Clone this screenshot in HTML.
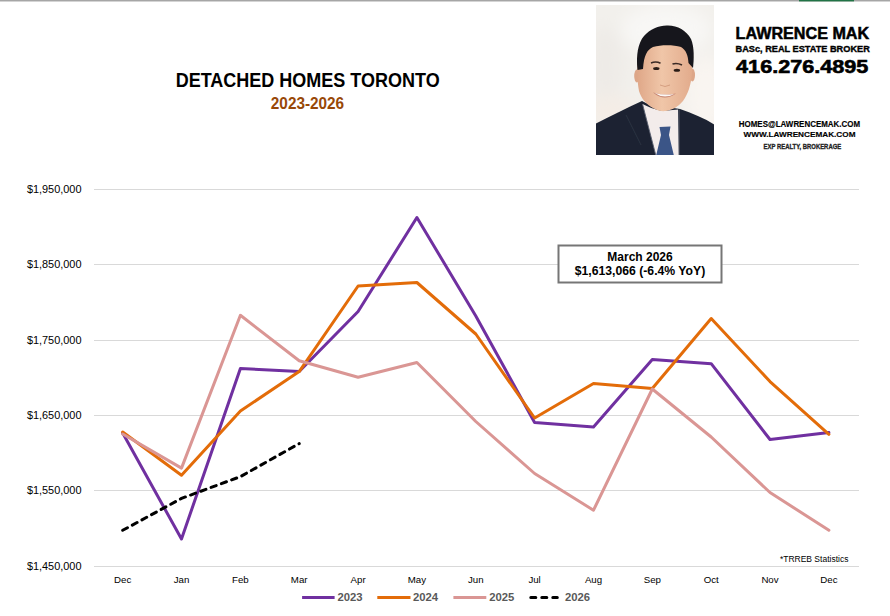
<!DOCTYPE html>
<html><head><meta charset="utf-8"><style>
html,body{margin:0;padding:0;background:#fff;}
body{width:890px;height:616px;position:relative;overflow:hidden;font-family:"Liberation Sans", sans-serif;}
</style></head><body>
<svg width="890" height="616" viewBox="0 0 890 616" style="position:absolute;left:0;top:0">
<rect x="0" y="0" width="890" height="1" fill="#a6a6a6"/>
<rect x="0" y="1" width="890" height="1" fill="#d4d4d4"/>
<rect x="799" y="0" width="55" height="1" fill="#217346"/><rect x="799" y="1" width="55" height="1" fill="#8fb09c"/>
<rect x="94" y="189" width="765" height="1" fill="#d9d9d9"/>
<rect x="94" y="264" width="765" height="1" fill="#d9d9d9"/>
<rect x="94" y="340" width="765" height="1" fill="#d9d9d9"/>
<rect x="94" y="415" width="765" height="1" fill="#d9d9d9"/>
<rect x="94" y="490" width="765" height="1" fill="#d9d9d9"/>
<rect x="94" y="566" width="765" height="1" fill="#d9d9d9"/>
<text x="26.9" y="193.3" font-family='"Liberation Sans", sans-serif' font-size="10.6" fill="#000" textLength="54.6" lengthAdjust="spacingAndGlyphs">$1,950,000</text>
<text x="26.9" y="268.3" font-family='"Liberation Sans", sans-serif' font-size="10.6" fill="#000" textLength="54.6" lengthAdjust="spacingAndGlyphs">$1,850,000</text>
<text x="26.9" y="344.3" font-family='"Liberation Sans", sans-serif' font-size="10.6" fill="#000" textLength="54.6" lengthAdjust="spacingAndGlyphs">$1,750,000</text>
<text x="26.9" y="419.3" font-family='"Liberation Sans", sans-serif' font-size="10.6" fill="#000" textLength="54.6" lengthAdjust="spacingAndGlyphs">$1,650,000</text>
<text x="26.9" y="494.3" font-family='"Liberation Sans", sans-serif' font-size="10.6" fill="#000" textLength="54.6" lengthAdjust="spacingAndGlyphs">$1,550,000</text>
<text x="26.9" y="570.3" font-family='"Liberation Sans", sans-serif' font-size="10.6" fill="#000" textLength="54.6" lengthAdjust="spacingAndGlyphs">$1,450,000</text>
<text x="122.7" y="583" text-anchor="middle" font-family='"Liberation Sans", sans-serif' font-size="9.7" fill="#000">Dec</text>
<text x="181.5" y="583" text-anchor="middle" font-family='"Liberation Sans", sans-serif' font-size="9.7" fill="#000">Jan</text>
<text x="240.4" y="583" text-anchor="middle" font-family='"Liberation Sans", sans-serif' font-size="9.7" fill="#000">Feb</text>
<text x="299.2" y="583" text-anchor="middle" font-family='"Liberation Sans", sans-serif' font-size="9.7" fill="#000">Mar</text>
<text x="358.1" y="583" text-anchor="middle" font-family='"Liberation Sans", sans-serif' font-size="9.7" fill="#000">Apr</text>
<text x="416.9" y="583" text-anchor="middle" font-family='"Liberation Sans", sans-serif' font-size="9.7" fill="#000">May</text>
<text x="475.8" y="583" text-anchor="middle" font-family='"Liberation Sans", sans-serif' font-size="9.7" fill="#000">Jun</text>
<text x="534.6" y="583" text-anchor="middle" font-family='"Liberation Sans", sans-serif' font-size="9.7" fill="#000">Jul</text>
<text x="593.5" y="583" text-anchor="middle" font-family='"Liberation Sans", sans-serif' font-size="9.7" fill="#000">Aug</text>
<text x="652.3" y="583" text-anchor="middle" font-family='"Liberation Sans", sans-serif' font-size="9.7" fill="#000">Sep</text>
<text x="711.2" y="583" text-anchor="middle" font-family='"Liberation Sans", sans-serif' font-size="9.7" fill="#000">Oct</text>
<text x="770.0" y="583" text-anchor="middle" font-family='"Liberation Sans", sans-serif' font-size="9.7" fill="#000">Nov</text>
<text x="828.9" y="583" text-anchor="middle" font-family='"Liberation Sans", sans-serif' font-size="9.7" fill="#000">Dec</text>
<path d="M122.7 433.0 L181.5 539.0 L240.4 368.5 L299.2 371.5 L358.1 311.5 L416.9 217.5 L475.8 316.0 L534.6 422.5 L593.5 427.0 L652.3 359.5 L711.2 363.7 L770.0 439.5 L828.9 432.6" stroke="#7030a0" fill="none" stroke-width="3" stroke-linejoin="round" stroke-linecap="round"/>
<path d="M122.7 432.0 L181.5 475.2 L240.4 411.0 L299.2 371.6 L358.1 286.0 L416.9 282.5 L475.8 334.0 L534.6 418.0 L593.5 383.5 L652.3 388.5 L711.2 318.5 L770.0 381.6 L828.9 434.3" stroke="#e36c09" fill="none" stroke-width="3" stroke-linejoin="round" stroke-linecap="round"/>
<path d="M122.7 434.0 L181.5 468.1 L240.4 315.3 L299.2 360.8 L358.1 377.3 L416.9 362.5 L475.8 421.5 L534.6 473.5 L593.5 510.2 L652.3 389.0 L711.2 437.0 L770.0 492.5 L828.9 530.3" stroke="#da9694" fill="none" stroke-width="3" stroke-linejoin="round" stroke-linecap="round"/>
<path d="M122.7 530.3 L181.5 498.4 L240.4 476.6 L299.2 443.6" stroke="#000" fill="none" stroke-width="3" stroke-linejoin="round" stroke-linecap="round" stroke-dasharray="5.4 5.54" stroke-dashoffset="0"/>
<text x="848.4" y="562" text-anchor="end" font-family='"Liberation Sans", sans-serif' font-size="8.5" fill="#000">*TRREB Statistics</text>
<rect x="302.1" y="596" width="32.5" height="3" fill="#7030a0"/>
<text x="337.5" y="601" font-family='"Liberation Sans", sans-serif' font-size="11.3" font-weight="bold" fill="#595959">2023</text>
<rect x="377.3" y="596" width="33.2" height="3" fill="#e36c09"/>
<text x="413.0" y="601" font-family='"Liberation Sans", sans-serif' font-size="11.3" font-weight="bold" fill="#595959">2024</text>
<rect x="453.4" y="596" width="32.9" height="3" fill="#da9694"/>
<text x="489.2" y="601" font-family='"Liberation Sans", sans-serif' font-size="11.3" font-weight="bold" fill="#595959">2025</text>
<path d="M530.8 597.5 L557.3 597.5" stroke="#000" stroke-width="3" stroke-linecap="round" stroke-dasharray="5 6" fill="none"/>
<text x="565.0" y="601" font-family='"Liberation Sans", sans-serif' font-size="11.3" font-weight="bold" fill="#595959">2026</text>
<rect x="558.5" y="245.5" width="163" height="37" fill="#fff" stroke="#767676" stroke-width="2"/>
<text x="640" y="260.8" text-anchor="middle" font-family='"Liberation Sans", sans-serif' font-size="12" font-weight="bold" fill="#000">March 2026</text>
<text x="640" y="275" text-anchor="middle" font-family='"Liberation Sans", sans-serif' font-size="12" font-weight="bold" fill="#000" textLength="130.5" lengthAdjust="spacingAndGlyphs">$1,613,066 (-6.4% YoY)</text>
<text x="307.7" y="86.7" text-anchor="middle" font-family='"Liberation Sans", sans-serif' font-size="20.5" font-weight="bold" fill="#000" textLength="264" lengthAdjust="spacingAndGlyphs">DETACHED HOMES TORONTO</text>
<text x="307.5" y="108.9" text-anchor="middle" font-family='"Liberation Sans", sans-serif' font-size="17" font-weight="bold" fill="#984807" textLength="73.3" lengthAdjust="spacingAndGlyphs">2023-2026</text>
<text x="735.6" y="38.5" font-family='"Liberation Sans", sans-serif' font-size="15.8" font-weight="bold" fill="#000" stroke="#000" stroke-width="0.50" textLength="133.6" lengthAdjust="spacingAndGlyphs">LAWRENCE MAK</text>
<text x="735.6" y="51.5" font-family='"Liberation Sans", sans-serif' font-size="9.3" font-weight="bold" fill="#000" stroke="#000" stroke-width="0.35" textLength="134.2" lengthAdjust="spacingAndGlyphs">BASc, REAL ESTATE BROKER</text>
<text x="736.1" y="72.8" font-family='"Liberation Sans", sans-serif' font-size="18.4" font-weight="bold" fill="#000" stroke="#000" stroke-width="0.60" textLength="132.3" lengthAdjust="spacingAndGlyphs">416.276.4895</text>
<text x="738.8" y="127.2" font-family='"Liberation Sans", sans-serif' font-size="8.2" font-weight="bold" fill="#000" stroke="#000" stroke-width="0.15" textLength="121.3" lengthAdjust="spacingAndGlyphs">HOMES@LAWRENCEMAK.COM</text>
<text x="743.5" y="136.6" font-family='"Liberation Sans", sans-serif' font-size="8.0" font-weight="bold" fill="#000" stroke="#000" stroke-width="0.15" textLength="112.0" lengthAdjust="spacingAndGlyphs">WWW.LAWRENCEMAK.COM</text>
<text x="763.6" y="148.8" font-family='"Liberation Sans", sans-serif' font-size="6.8" font-weight="bold" fill="#222" stroke="#222" stroke-width="0.30" textLength="77.6" lengthAdjust="spacingAndGlyphs">EXP REALTY, BROKERAGE</text>
<g transform="translate(596 5)">
<defs>
<filter id="bl" x="-5%" y="-5%" width="110%" height="110%"><feGaussianBlur stdDeviation="0.75"/></filter>
<filter id="bl2" x="-50%" y="-50%" width="200%" height="200%"><feGaussianBlur stdDeviation="8"/></filter>
<clipPath id="pc"><rect x="0" y="0" width="118" height="150"/></clipPath>
<linearGradient id="skin" x1="0" y1="0" x2="1" y2="0"><stop offset="0" stop-color="#dfa788"/><stop offset="0.45" stop-color="#f0c6a8"/><stop offset="1" stop-color="#e2ab8c"/></linearGradient>
</defs>
<g clip-path="url(#pc)">
<rect x="0" y="0" width="118" height="150" fill="#f2f0ec"/>
<g filter="url(#bl2)">
<ellipse cx="70" cy="25" rx="45" ry="25" fill="#f8f7f5"/>
<ellipse cx="110" cy="90" rx="20" ry="40" fill="#f9f5f1"/>
<ellipse cx="10" cy="60" rx="18" ry="40" fill="#eeebe7"/>
<ellipse cx="15" cy="105" rx="25" ry="15" fill="#f4ede6"/>
</g>
<g filter="url(#bl)">
<path d="M-1 119 C15 111 30 103 46 96 L52 99 L84 104 C96 108 108 113 119 120 L119 151 L-1 151 Z" fill="#1c2332"/>
<path d="M46.5 99 C52 102 58 104 66 106 L82 104.5 L83 151 L60 151 Z" fill="#f3eceb"/>
<path d="M46.5 99 L60 151" stroke="#5a6070" stroke-width="0.9" fill="none"/>
<path d="M83 104.5 L83 151" stroke="#5a6070" stroke-width="0.9" fill="none"/>
<path d="M30 110 L45 140" stroke="#2c3342" stroke-width="1" fill="none"/>
<path d="M63.5 122 L74.5 121.5 L73 130 L78 151 L60 151 L65 130 Z" fill="#3a5487"/>
<ellipse cx="40.8" cy="71" rx="2.6" ry="6.5" fill="#dda688"/>
<ellipse cx="96.4" cy="70" rx="2.6" ry="6.5" fill="#dda688"/>
<path d="M41.5 52 C41 62 41 75 43 86 C45 93 50 99 57 103 C62 106 66 106.5 70 106 C76 105 82 102 87 96 C92 89 95 80 96 68 C96.5 60 96 52 95 46 C90 40 80 38 70 38 C55 38 45 42 41.5 52 Z" fill="url(#skin)"/>
<path d="M41.5 65 C40 50 42 38 48 31 C54 24 64 20 72 20.5 C82 21 90 25 95 34 C98.5 42 98 55 97 63 L92.5 58 C92 50 90 45 85 42 C78 40 66 39.5 57 42 C51 45 48 50 47 64 Z" fill="#19181b"/>
<path d="M55 58 Q60 56 64.5 58.3" stroke="#3a2a25" stroke-width="1.6" fill="none"/>
<path d="M76.5 59 Q81 57.5 86 60" stroke="#3a2a25" stroke-width="1.6" fill="none"/>
<ellipse cx="60.3" cy="63.6" rx="3.2" ry="1.5" fill="#2a1d18"/>
<ellipse cx="80.9" cy="65.2" rx="3.2" ry="1.5" fill="#2a1d18"/>
<path d="M64 80 Q69 83 74 80" stroke="#c98f70" stroke-width="1" fill="none" opacity="0.7"/>
<path d="M57 87.5 Q68 97 80 88.5 Q68 91 57 87.5 Z" fill="#c4826e"/>
<path d="M58.5 88 Q68 94.5 78.5 89 Q68 90.5 58.5 88 Z" fill="#fbf8f5"/>
</g>
</g>
</g>
</svg>
</body></html>
